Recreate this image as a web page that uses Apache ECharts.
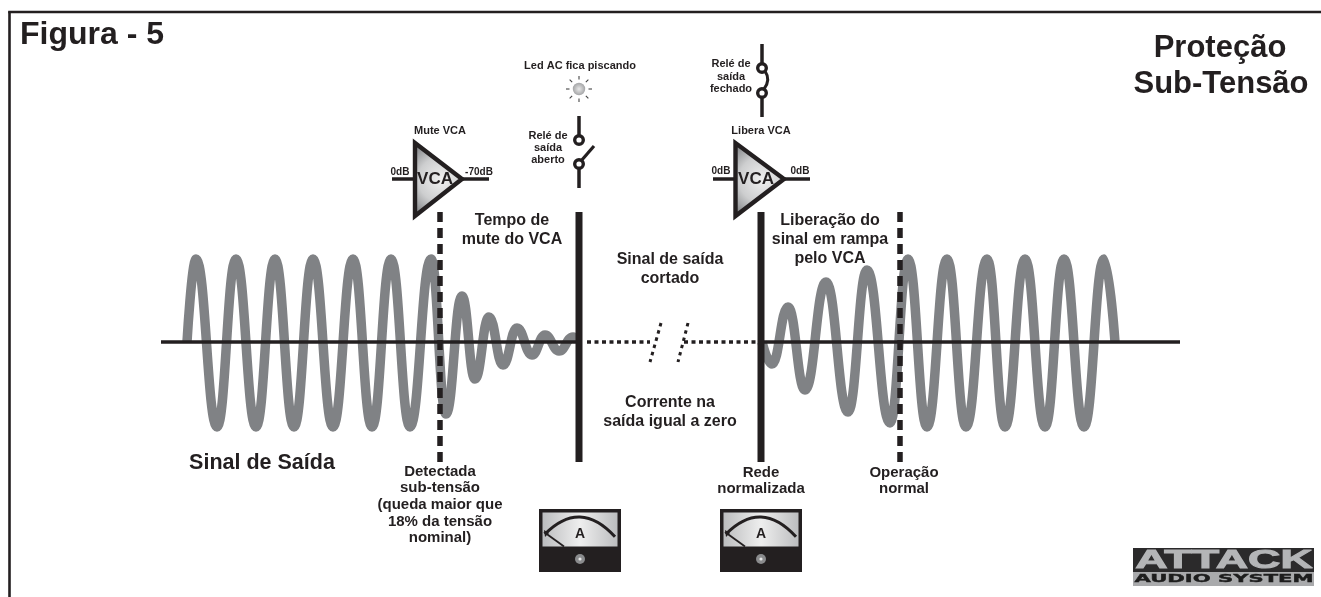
<!DOCTYPE html>
<html><head><meta charset="utf-8">
<style>html,body{margin:0;padding:0;background:#fff}#c{width:1321px;height:597px}</style>
<script src="https://cdn.jsdelivr.net/npm/echarts@6/dist/echarts.min.js"></script>
</head><body><div id="c"></div>
<script>
// Waveform extrema: time position, amplitude above the baseline
const steadyLeftX = [187,196,217,236,256,275,294,313,333,353,372,391,410,431];
const steadyLeftY = [0,83,-85,83,-85,83,-85,83,-85,83,-85,83,-85,83];
const decayX = [446,462,475,489,503,517,532,545,559,573,578];
const decayY = [-72,46,-37,25,-23,14,-13,7,-9,5,2];
const rampX = [762,772,788,805,826,848,867,890];
const rampY = [0,-22,35,-48,60,-70,72,-81];
const steadyRightX = [908,927,947,966,987,1005,1025,1045,1064,1084,1104,1115];
const steadyRightY = [83,-85,83,-85,83,-85,83,-85,83,-85,83,0];
const baselineLeft = [161,579];
const baselineRight = [761,1180];
const cutA = [587,650];
const cutB = [684,757];
const slashA = [[661,19],[650,-20]];
const slashB = [[688,19],[678,-20]];
const dashedMarks = [440,900];
const solidMarks = [579,761];
const markTop = 130, markBottom = -120;

const titles = [
 ['Figura - 5',20,35,32,'left'],['Proteção',1220,48,31,'center'],['Sub-Tensão',1221,84,31,'center']];
const labels = [
 ['Led AC fica piscando',580,66,11],['Relé de',548,136,11],['saída',548,148,11],['aberto',548,160,11],
 ['Mute VCA',440,131,11],['0dB',400,172,10],['-70dB',479,172,10],['VCA',435,179,17],
 ['Relé de',731,64,11],['saída',731,77,11],['fechado',731,89,11],
 ['Libera VCA',761,131,11],['0dB',721,171,10],['0dB',800,171,10],['VCA',756,179,17],
 ['Tempo de',512,221,16],['mute do VCA',512,240,16],
 ['Sinal de saída',670,260,16],['cortado',670,279,16],
 ['Corrente na',670,403,16],['saída igual a zero',670,422,16],
 ['Liberação do',830,221,16],['sinal em rampa',830,240,16],['pelo VCA',830,259,16],
 ['Sinal de Saída',262,463,21.5],
 ['Detectada',440,472,15],['sub-tensão',440,488,15],['(queda maior que',440,505,15],['18% da tensão',440,522,15],['nominal)',440,538,15],
 ['Rede',761,473,15],['normalizada',761,489,15],
 ['Operação',904,473,15],['normal',904,489,15]];

const INK = '#231f20', WAVE = '#808285', FONT = '"Liberation Sans",Arial,sans-serif';
const pairs = (a,b)=>a.map((v,i)=>[v,b[i]]);
const waveSeries = (x,y)=>({type:'line',data:pairs(x,y),smooth:0.45,smoothMonotone:'x',showSymbol:false,symbol:'none',silent:true,z:2,
  lineStyle:{color:WAVE,width:9.5,cap:'butt',join:'round'},animation:false});
const straight = (data,width,type,z)=>({type:'line',data,showSymbol:false,symbol:'none',silent:true,z,animation:false,
  lineStyle:{color:INK,width,type:type||'solid',cap:'butt'}});

const series = [
 waveSeries(steadyLeftX.concat(decayX),steadyLeftY.concat(decayY)),
 waveSeries(rampX.concat(steadyRightX),rampY.concat(steadyRightY)),
 straight(baselineLeft.map(x=>[x,0]),3.5,'solid',3),
 straight(baselineRight.map(x=>[x,0]),3.5,'solid',3),
 straight(cutA.map(x=>[x,0]),3.5,[4,3.5],3),
 straight(cutB.map(x=>[x,0]),3.5,[4,3.5],3),
 straight(slashA,3,[3.5,4],3), straight(slashB,3,[3.5,4],3),
 ...dashedMarks.map(x=>straight([[x,markTop],[x,markBottom]],5.5,[10,6],4)),
 ...solidMarks.map(x=>straight([[x,markTop],[x,markBottom]],7,'solid',4))
];

// Icons and frame
const g = [];
const line = (x1,y1,x2,y2,w,c)=>g.push({type:'line',silent:true,shape:{x1,y1,x2,y2},style:{stroke:c||INK,lineWidth:w||3.5}});
const ring = (cx,cy,r,w)=>g.push({type:'circle',silent:true,z:3,shape:{cx,cy,r},style:{fill:'#fff',stroke:INK,lineWidth:w||3.4}});
const triFill = {type:'radial',x:0.55,y:0.5,r:0.8,colorStops:[{offset:0,color:'#f0f0f0'},{offset:0.55,color:'#cdcecf'},{offset:1,color:'#808285'}]};
function vca(left,right,inL,outR){
  line(inL,179,left,179); line(right,179,outR,179);
  g.push({type:'polygon',silent:true,z:1,shape:{points:[[left,143],[left,216],[right,179]]},style:{fill:triFill,stroke:INK,lineWidth:4.4,lineJoin:'miter',miterLimit:10}});
}
vca(415,462,392,489);
vca(735.5,784,713,810);
// open relay
line(579,116,579,136); line(579,168,579,188); line(581,161,594,146,3.2);
ring(579,140,4.3); ring(579,164,4.3);
// closed relay
line(762,44,762,64); line(762,97,762,117);
g.push({type:'bezierCurve',silent:true,shape:{x1:764,y1:89,x2:765,y2:71,cpx1:771,cpy1:80},style:{stroke:INK,lineWidth:3,fill:null}});
ring(762,68,4.3); ring(762,93,4.3);
// led
g.push({type:'circle',silent:true,shape:{cx:579,cy:89,r:6.2},style:{fill:{type:'radial',x:0.5,y:0.5,r:0.6,colorStops:[{offset:0,color:'#e8e8e8'},{offset:1,color:'#97989a'}]}}});
for (const [dx,dy] of [[0,-1],[0,1],[-1,0],[1,0],[.72,-.72],[-.72,-.72],[.72,.72],[-.72,.72]])
  line(579+dx*9.5,89+dy*9.5,579+dx*13,89+dy*13,1.1,'#444');
// ammeters
function meter(x){
  g.push({type:'rect',silent:true,shape:{x,y:509,width:82,height:63},style:{fill:INK}});
  g.push({type:'rect',silent:true,shape:{x:x+3.5,y:512.5,width:75,height:34},style:{fill:{type:'linear',x:0,y:0,x2:1,y2:0,colorStops:[{offset:0,color:'#bcbdbf'},{offset:0.5,color:'#eeeeee'},{offset:1,color:'#bcbdbf'}]}}});
  g.push({type:'bezierCurve',silent:true,shape:{x1:x+6,y1:534,x2:x+76,y2:536.7,cpx1:x+41,cpy1:498.5},style:{stroke:INK,lineWidth:3,fill:null}});
  line(x+5,532,x+25,546.5,1.8);
  g.push({type:'polygon',silent:true,shape:{points:[[x+5,530],[x+10,533],[x+6,537]]},style:{fill:INK}});
  g.push({type:'text',silent:true,style:{text:'A',x:x+41,y:534,fill:INK,font:'bold 14px '+FONT,align:'center',verticalAlign:'middle'}});
  g.push({type:'circle',silent:true,shape:{cx:x+41,cy:559,r:5},style:{fill:'#8a8b8d'}});
  g.push({type:'circle',silent:true,shape:{cx:x+41,cy:559,r:1.6},style:{fill:'#e8e8e8'}});
}
meter(539); meter(720);
// logo
g.push({type:'rect',silent:true,shape:{x:1133,y:548,width:181,height:38},style:{fill:'#a9aaac'}});
g.push({type:'rect',silent:true,shape:{x:1133,y:548,width:181,height:24},style:{fill:'#2b2a2b'}});
g.push({type:'text',silent:true,x:1224,y:561,scaleX:1.66,scaleY:0.95,style:{text:'ATTACK',x:0,y:0,fill:'#b4b5b7',stroke:'#b4b5b7',lineWidth:1,font:'bold 27px '+FONT,align:'center',verticalAlign:'middle'}});
g.push({type:'text',silent:true,x:1224,y:579,scaleX:1.92,scaleY:1,style:{text:'AUDIO SYSTEM',x:0,y:0,fill:'#1d1d1d',stroke:'#1d1d1d',lineWidth:0.4,font:'bold 11px "DejaVu Sans",sans-serif',align:'center',verticalAlign:'middle'}});
// frame
line(9.5,11.5,9.5,597,2.6); line(8.2,12,1321,12,2.6);
// text
for (const [t,x,y,s,a] of titles)
  g.push({type:'text',silent:true,z:10,style:{text:t,x,y,fill:INK,font:`bold ${s}px ${FONT}`,align:a,verticalAlign:'middle'}});
for (const [t,x,y,s] of labels)
  g.push({type:'text',silent:true,z:10,style:{text:t,x,y,fill:INK,font:`bold ${s}px ${FONT}`,align:'center',verticalAlign:'middle'}});

const chart = echarts.init(document.getElementById('c'),null,{renderer:'canvas',width:1321,height:597});
chart.setOption({
  animation:false,backgroundColor:'#fff',
  grid:{left:0,right:0,top:0,bottom:0},
  xAxis:{type:'value',min:0,max:1321,show:false},
  yAxis:{type:'value',min:-255,max:342,show:false},
  tooltip:{show:false},legend:{show:false},
  series, graphic:g
});
</script></body></html>
